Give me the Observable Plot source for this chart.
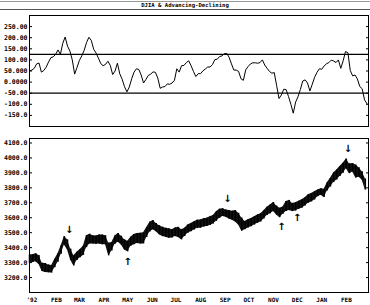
<!DOCTYPE html>
<html><head><meta charset="utf-8">
<script src="https://cdn.jsdelivr.net/npm/d3@7"></script>
<script src="https://cdn.jsdelivr.net/npm/@observablehq/plot@0.6"></script>
<style>
body{margin:0;background:#fff;}
#wrap{position:relative;width:370px;height:305px;overflow:hidden;background:#fff;}
#topline{position:absolute;left:0;top:1px;width:370px;height:0;border-top:1px solid #999;}
#barline{position:absolute;left:0;top:9px;width:370px;height:0;border-top:1px solid #555;}
#title{position:absolute;left:0;top:2px;width:370px;text-align:center;font:bold 5.6px "DejaVu Sans Mono",monospace;line-height:7px;color:#000;}
#title span{background:#fff;padding:0 3px;}
#top{position:absolute;left:0;top:0;}
#bottom{position:absolute;left:0;top:130px;}
</style></head><body>
<div id="wrap">
  <div id="top"></div>
  <div id="bottom"></div>
  <div id="topline"></div>
  <div id="barline"></div>
  <div id="title"><span>DJIA &amp; Advancing-Declining</span></div>
</div>
<script>
// ---- data ----
const startDate = new Date("1991-12-29");
const endDate = new Date("1993-03-01");

// Advancing-Declining (one reading every 3 days from startDate)
const adStepDays = 3;
const adValues = [51,54,62,82,86,45,52,67,90,110,
 114,125,145,125,175,203,162,140,100,36,
 66,98,118,143,178,202,188,148,131,108,
 83,74,80,94,75,34,50,85,37,13,
 -21,-44,-22,15,45,60,57,32,-4,12,
 30,36,46,44,18,-28,-22,-20,-8,-10,
 -4,8,60,45,74,75,88,96,74,48,
 25,38,38,51,59,68,68,79,101,103,
 115,118,128,129,112,82,54,54,48,15,
 8,55,70,82,87,87,85,88,100,77,
 62,48,40,43,-15,-74,-58,-32,-34,-65,
 -100,-140,-90,-66,-33,5,10,-4,-40,-10,
 22,44,60,58,73,83,88,99,95,88,
 100,62,96,138,132,52,28,32,14,-20,
 -30,-80,-97];
const adRefLevels = [125, -50];
const adTicks = [250, 200, 150, 100, 50, 0, -50, -100, -150];
const adTickLabels = ["250.00","200.00","150.00","100.00","50.000","0.0000","-50.00","-100.0","-150.0"];

// DJIA high/low band (one reading every 4 days from startDate)
const djiaStepDays = 4;
const djiaHigh = [3352,3352,3360,3348,3296,3294,3284,3280,3322,3360,
 3412,3474,3452,3390,3345,3370,3388,3410,3480,3490,
 3480,3478,3485,3485,3480,3430,3435,3478,3494,3476,
 3452,3442,3470,3488,3494,3496,3500,3535,3570,3582,
 3562,3547,3537,3530,3526,3520,3532,3536,3519,3530,
 3552,3562,3573,3584,3585,3593,3596,3606,3615,3640,
 3657,3660,3652,3648,3643,3648,3630,3598,3575,3586,
 3595,3607,3619,3627,3647,3670,3686,3702,3678,3663,
 3672,3708,3716,3696,3700,3711,3720,3734,3753,3762,
 3774,3785,3794,3790,3834,3864,3900,3919,3943,3965,
 3993,3960,3962,3952,3935,3908,3860];
const djiaLow = [3296,3300,3305,3288,3240,3234,3232,3230,3265,3303,
 3355,3418,3385,3315,3278,3314,3333,3348,3400,3425,
 3425,3422,3425,3420,3420,3345,3378,3422,3436,3418,
 3385,3372,3410,3420,3428,3425,3425,3468,3504,3520,
 3507,3486,3474,3470,3463,3465,3474,3468,3452,3474,
 3497,3506,3518,3529,3530,3538,3541,3548,3558,3576,
 3596,3608,3604,3592,3583,3572,3552,3510,3519,3531,
 3540,3551,3563,3572,3591,3615,3626,3641,3618,3600,
 3623,3641,3648,3641,3645,3656,3664,3678,3697,3706,
 3719,3741,3750,3735,3779,3805,3835,3852,3876,3898,
 3927,3895,3906,3865,3870,3852,3785];
const djiaTicks = [4100, 4000, 3900, 3800, 3700, 3600, 3500, 3400, 3300, 3200];
const djiaTickLabels = ["4100.0","4000.0","3900.0","3800.0","3700.0","3600.0","3500.0","3400.0","3300.0","3200.0"];

// signal arrows
const arrowDates = ["1992-02-17","1992-05-01","1992-09-04","1992-11-11","1992-12-01","1993-02-03"];
const arrowValues = [3519, 3306, 3726, 3539, 3599, 4059];
const arrowSymbols = ["↓","↑","↓","↑","↑","↓"];

// month ticks
const monthTicks = ["1992-01-01","1992-02-01","1992-03-01","1992-04-01","1992-05-01","1992-06-01","1992-07-01","1992-08-01","1992-09-01","1992-10-01","1992-11-01","1992-12-01","1993-01-01","1993-02-01"];
const monthLabels = ["'92","FEB","MAR","APR","MAY","JUN","JUL","AUG","SEP","OCT","NOV","DEC","JAN","FEB"];

// ---- build tables ----
const adData = adValues.map((v, i) => ({date: d3.utcDay.offset(startDate, i * adStepDays), value: v}));
const djiaData = djiaHigh.map((h, i) => ({date: d3.utcDay.offset(startDate, i * djiaStepDays), high: h, low: djiaLow[i]}));
const arrows = arrowDates.map((d, i) => ({date: new Date(d), value: arrowValues[i], symbol: arrowSymbols[i]}));
const adLabel = new Map(adTicks.map((t, i) => [t, adTickLabels[i]]));
const djLabel = new Map(djiaTicks.map((t, i) => [t, djiaTickLabels[i]]));
const monthDates = monthTicks.map(d => new Date(d));
const monthLabel = new Map(monthDates.map((d, i) => [+d, monthLabels[i]]));

const font = {fontFamily: "'DejaVu Sans Mono', monospace", fontSize: "6.5px", fontWeight: "bold", background: "transparent", color: "#000", overflow: "visible"};

const topPlot = Plot.plot({
  width: 370, height: 130,
  marginTop: 15, marginBottom: 4, marginLeft: 29, marginRight: 2,
  x: {type: "utc", domain: [startDate, endDate], axis: null},
  y: {domain: [-200, 300], axis: null},
  style: font,
  marks: [
    Plot.frame({stroke: "#000"}),
    Plot.ruleY(adRefLevels, {stroke: "#000", strokeWidth: 1.2}),
    Plot.axisY({anchor: "left", label: null, ticks: adTicks, tickFormat: d => adLabel.get(d), tickSize: -3, tickPadding: 5}),
    Plot.axisY({anchor: "right", label: null, ticks: adTicks, tickFormat: () => "", tickSize: -3}),
    Plot.line(adData, {x: "date", y: "value", stroke: "#000", strokeWidth: 1})
  ]
});
document.getElementById("top").append(topPlot);

const botPlot = Plot.plot({
  width: 370, height: 175,
  marginTop: 8, marginBottom: 13, marginLeft: 29, marginRight: 2,
  x: {type: "utc", domain: [startDate, endDate]},
  y: {domain: [3100, 4130]},
  style: font,
  marks: [
    Plot.frame({stroke: "#000"}),
    Plot.axisY({anchor: "left", label: null, ticks: djiaTicks, tickFormat: d => djLabel.get(d), tickSize: -3, tickPadding: 5}),
    Plot.axisY({anchor: "right", label: null, ticks: djiaTicks, tickFormat: () => "", tickSize: -3}),
    Plot.axisX({anchor: "bottom", label: null, ticks: monthDates, tickFormat: d => monthLabel.get(+d), tickSize: 0, tickPadding: 5, fontSize: 6}),
    Plot.areaY(djiaData, {x: "date", y1: "low", y2: "high", fill: "#111"}),
    Plot.ruleX(djiaData, {x: "date", y1: "low", y2: "high", stroke: "#000", strokeWidth: 1.5}),
    Plot.text(arrows, {x: "date", y: "value", text: "symbol", fontSize: 10, fontWeight: "bold", fontFamily: "DejaVu Sans", fill: "#000"})
  ]
});
document.getElementById("bottom").append(botPlot);
</script>
</body></html>
